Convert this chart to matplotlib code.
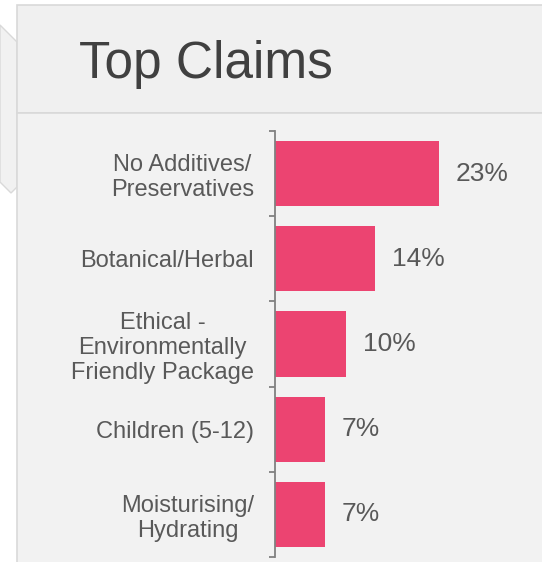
import matplotlib
matplotlib.use("Agg")
import matplotlib.pyplot as plt
from matplotlib.patches import Rectangle, Polygon
import numpy as np

plt.rcParams["font.family"] = ["Liberation Sans", "DejaVu Sans"]

# Data
claims = [
    "No Additives/\nPreservatives",
    "Botanical/Herbal",
    "Ethical -\nEnvironmentally\nFriendly Package",
    "Children (5-12)",
    "Moisturising/\nHydrating",
]
shares = [23, 14, 10, 7, 7]
title = "Top Claims"

BAR_COLOR = "#EC4471"
TEXT_COLOR = "#595959"
TITLE_COLOR = "#404040"
PANEL_FILL = "#F1F1F1"
PANEL_EDGE = "#D9D9D9"
AXIS_COLOR = "#808080"

W, H = 542, 562
fig = plt.figure(figsize=(W / 100, H / 100), dpi=100)
fig.patch.set_facecolor("white")


def fx(px):
    return px / W


def fy(py):
    return 1 - py / H


# Side chevron tab
tab = Polygon(
    [(fx(0), fy(25)), (fx(17), fy(42)), (fx(17), fy(187)), (fx(11), fy(193)), (fx(0), fy(182))],
    closed=True, transform=fig.transFigure, facecolor=PANEL_FILL,
    edgecolor=PANEL_EDGE, linewidth=1.0, zorder=-3,
)
fig.patches.append(tab)

# Header and body panels
header = Rectangle((fx(17), fy(113)), fx(560) - fx(17), fy(5) - fy(113),
                   transform=fig.transFigure, facecolor="#F0F0F0",
                   edgecolor=PANEL_EDGE, linewidth=1.2, zorder=-2)
body = Rectangle((fx(17), fy(580)), fx(560) - fx(17), fy(113) - fy(580),
                 transform=fig.transFigure, facecolor="#F2F2F2",
                 edgecolor=PANEL_EDGE, linewidth=1.2, zorder=-2)
fig.patches.extend([header, body])

fig.text(fx(79), fy(78), title, fontsize=37, color=TITLE_COLOR,
         ha="left", va="baseline", zorder=3)

# Bar chart axes
ax_left, ax_top, ax_bottom = 275, 131, 557
ax = fig.add_axes([fx(ax_left), fy(ax_bottom), 1 - fx(ax_left), fy(ax_top) - fy(ax_bottom)])
ax.set_zorder(2)
ax.patch.set_visible(False)

y = np.arange(len(claims))
ax.barh(y, shares, height=0.765, color=BAR_COLOR, zorder=2)
ax.set_ylim(len(claims) - 0.5, -0.5)
ax.set_xlim(0, 37.4)

for yi, v in zip(y, shares):
    ax.annotate(f"{v}%", xy=(v, yi), xytext=(12, 0), textcoords="offset points",
                ha="left", va="center", fontsize=19, color=TEXT_COLOR)

for side in ("top", "right", "bottom"):
    ax.spines[side].set_visible(False)
ax.spines["left"].set_color(AXIS_COLOR)
ax.spines["left"].set_linewidth(1.3)

ax.set_xticks([])
ax.set_yticks(np.arange(-0.5, len(claims), 1.0))
ax.set_yticklabels([])
ax.tick_params(axis="y", which="major", length=4, width=1.3, color=AXIS_COLOR, direction="out")
ax.set_yticks(y, minor=True)
ax.set_yticklabels(claims, minor=True, fontsize=17, color=TEXT_COLOR, linespacing=1.16)
ax.tick_params(axis="y", which="minor", length=0, pad=15)
for lbl in ax.get_yticklabels(minor=True):
    lbl.set_multialignment("center")

fig.savefig("out.png", dpi=100, facecolor="white")
